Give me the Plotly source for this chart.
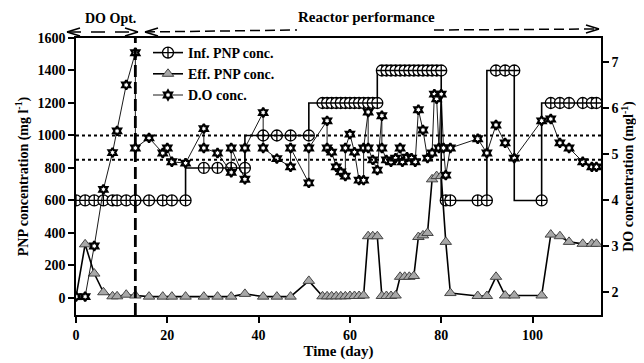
import plotly.graph_objects as go

# ---------------- data ----------------
inf_days = [0, 2, 4, 6, 8, 9, 11, 13, 16, 19, 21, 24,
            28, 31, 34, 37,
            41, 44, 47, 51,
            54, 55, 56, 57, 58, 59, 60, 61, 62, 63, 64, 65, 66,
            67, 68, 69, 70, 71, 72, 73, 74, 75, 76, 77, 78, 79, 80,
            81, 82, 88, 90,
            92, 94, 96,
            102,
            104, 106, 108, 111, 113, 114]
inf_pnp = [600] * 12 + [800] * 4 + [1000] * 4 + [1200] * 13 + [1400] * 14 + \
          [600] * 4 + [1400] * 3 + [600] + [1200] * 6

eff_days = [0, 2, 4, 6, 8, 9, 11, 13, 16, 19, 21, 24, 28, 31, 34, 37, 41, 44, 47, 51,
            54, 55, 56, 57, 58, 59, 60, 61, 62, 63,
            64, 65, 66,
            67, 68, 69, 70,
            71, 72, 73, 74,
            75, 76, 77,
            78, 79, 80,
            81, 82, 88, 90, 92, 94, 96, 102,
            104, 106, 108, 111, 113, 114]
eff_pnp = [5, 330, 150, 35, 10, 10, 20, 15, 8, 8, 8, 8, 8, 8, 8, 25, 8, 8, 8, 105,
           10, 10, 10, 10, 10, 10, 12, 12, 12, 15,
           380, 380, 380,
           12, 12, 12, 15,
           130, 130, 130, 135,
           375, 385, 400,
           730, 750, 750,
           345, 30, 12, 12, 130, 15, 15, 15,
           390, 380, 345, 333, 333, 333]

do_days = [0, 2, 4, 6, 8, 9, 11, 13, 13, 16, 19, 20, 21, 24,
           28, 28, 31, 34, 34, 37, 37, 41, 41, 44, 47, 47, 51, 51,
           55, 55, 56, 57, 58, 59, 59, 60, 61, 62, 63, 63, 64, 64, 65, 66,
           67, 67, 68, 69, 70, 71, 71.5, 72.5, 73.5, 74.3, 75, 76, 77,
           78, 78.5, 79, 79.5, 80, 80.5, 81, 82,
           88, 90, 92, 94, 96, 102, 104, 106, 108, 111, 113, 114]
do_conc = [1.9, 1.9, 3.0, 4.23, 5.03, 5.5, 6.5, 7.2, 5.13, 5.35, 5.02, 5.13, 4.83, 4.8,
           5.55, 5.13, 5.02, 4.6, 5.13, 4.45, 5.13, 5.9, 5.13, 4.9, 4.72, 5.13, 4.37, 5.13,
           5.72, 5.13, 5.04, 4.72, 4.61, 4.52, 5.13, 5.43, 5.04, 4.43, 4.43, 5.13, 5.91, 5.13, 4.87, 4.65,
           5.83, 5.13, 4.87, 4.83, 4.91, 5.13, 4.83, 4.93, 4.91, 4.83, 5.96, 5.52, 4.91,
           5.02, 6.3, 6.2, 5.13, 6.3, 5.13, 4.54, 5.13,
           5.33, 5.02, 5.63, 5.24, 4.91, 5.72, 5.76, 5.24, 5.13, 4.83, 4.72, 4.72]

ref_lines = [1000, 850]
phase_split = 13
x_ticks = [0, 20, 40, 60, 80, 100]
y_ticks = [0, 200, 400, 600, 800, 1000, 1200, 1400, 1600]
y2_ticks = [2, 3, 4, 5, 6, 7]

# ---------------- figure ----------------
FONT = "Liberation Serif"
OFF = 8  # page body margin
W, H = 644 - OFF, 363 - OFF
L, R, T, B = 76 - OFF, 601 - OFF, 38 - OFF, 315 - OFF

fig = go.Figure()

fig.add_trace(go.Scatter(
    x=inf_days, y=inf_pnp, name="Inf. PNP conc.", mode="lines+markers",
    line=dict(color="black", width=1.6, shape="vh"),
    marker=dict(symbol="circle-cross", size=11, color="white",
                line=dict(color="black", width=1.3))))

fig.add_trace(go.Scatter(
    x=eff_days, y=eff_pnp, name="Eff. PNP conc.", mode="lines+markers",
    line=dict(color="black", width=1.6),
    marker=dict(symbol="triangle-up", size=10, color="#a8a8a8",
                line=dict(color="#444444", width=1))))

fig.add_trace(go.Scatter(
    x=do_days, y=do_conc, name="D.O conc.", mode="lines+markers", yaxis="y2",
    line=dict(color="black", width=0.9),
    marker=dict(symbol="hexagram", size=7, color="white",
                line=dict(color="black", width=2.2))))

shapes = []
for v in ref_lines:
    shapes.append(dict(type="line", xref="paper", yref="y", x0=0, x1=1, y0=v, y1=v,
                       line=dict(color="black", width=2, dash="dot")))
shapes.append(dict(type="line", xref="x", yref="paper", x0=phase_split, x1=phase_split,
                   y0=0, y1=1, line=dict(color="black", width=2.8, dash="12px,5px")))

# helpers: reference-pixel -> paper coords
def px(xp):
    return (xp - OFF - L) / (R - L)
def py(yp):
    return (B - (yp - OFF)) / (B - T)

def seg(x0, y0, x1, y1, dash="solid", w=1.5):
    shapes.append(dict(type="line", xref="paper", yref="paper",
                       x0=px(x0), y0=py(y0), x1=px(x1), y1=py(y1),
                       line=dict(color="black", width=w, dash=dash)))

def head(xt, yt, direction):
    d = 13 * direction
    seg(xt, yt, xt - d, yt - 4)
    seg(xt, yt, xt - d, yt + 4)

# DO Opt. arrow
seg(67, 32, 138, 32, dash="14px,10px")
head(67, 32, -1)
head(138, 32, 1)
# Reactor performance arrow
seg(145, 32, 297, 30, dash="10px,5px")
seg(434, 30, 599, 29, dash="10px,5px")
head(145, 32, -1)
head(599, 29, 1)

annotations = [
    dict(text="DO Opt.", xref="paper", yref="paper", x=px(110), y=py(18),
         xanchor="center", yanchor="middle",
         showarrow=False, font=dict(size=14, family=FONT, color="black", weight="bold")),
    dict(text="Reactor performance", xref="paper", yref="paper", x=px(366), y=py(17),
         xanchor="center", yanchor="middle",
         showarrow=False, font=dict(size=15, family=FONT, color="black", weight="bold")),
]

axis_common = dict(showline=True, linecolor="black", linewidth=1.5, ticks="outside",
                   ticklen=6, tickwidth=1.5, tickcolor="black", showgrid=False,
                   zeroline=False, automargin=False,
                   tickfont=dict(size=14, family=FONT, color="black", weight="bold"))

fig.update_layout(
    width=W, height=H,
    margin=dict(l=L, r=W - R, t=T, b=H - B, autoexpand=False),
    paper_bgcolor="white", plot_bgcolor="white",
    font=dict(family=FONT, color="black", weight="bold"),
    shapes=shapes, annotations=annotations,
    showlegend=True,
    legend=dict(x=px(148), y=py(37), xanchor="left", yanchor="top",
                bgcolor="rgba(0,0,0,0)", borderwidth=0,
                font=dict(size=14, family=FONT, color="black", weight="bold"),
                tracegroupgap=0, itemwidth=30),
    xaxis=dict(range=[0, 115], tickvals=x_ticks, mirror=True,
               title=dict(text="Time (day)", standoff=2,
                          font=dict(size=15, family=FONT, color="black", weight="bold")),
               **axis_common),
    yaxis=dict(range=[-105, 1600], tickvals=y_ticks,
               title=dict(text="PNP concentration (mg l<sup>-1</sup>)", standoff=6,
                          font=dict(size=14, family=FONT, color="black", weight="bold")),
               **axis_common),
    yaxis2=dict(range=[1.5, 7.52], tickvals=y2_ticks, overlaying="y", side="right",
                title=dict(text="DO concentration (mgl<sup>-1</sup>)", standoff=6,
                           font=dict(size=14, family=FONT, color="black", weight="bold")),
                **axis_common),
)

fig.write_html("out.html")
